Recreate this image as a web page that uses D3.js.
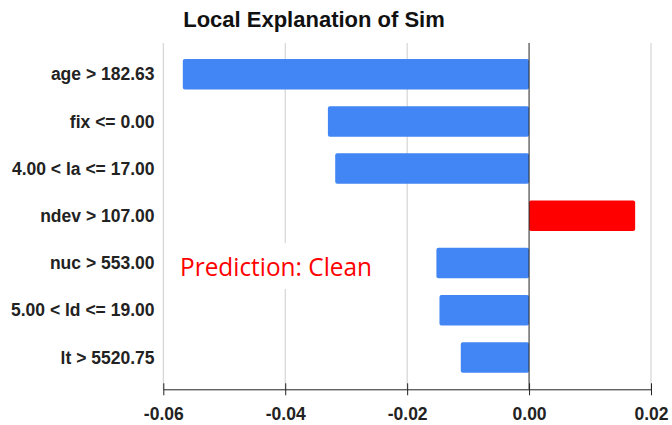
<!DOCTYPE html>
<html>
<head>
<meta charset="utf-8">
<script src="https://cdn.jsdelivr.net/npm/d3@7"></script>
<style>
  html, body { margin: 0; padding: 0; background: #fff; }
  svg { display: block; }
</style>
</head>
<body>
<script>
const categories = ["age > 182.63", "fix <= 0.00", "4.00 < la <= 17.00", "ndev > 107.00", "nuc > 553.00", "5.00 < ld <= 19.00", "lt > 5520.75"];
const values = [-0.0568, -0.0330, -0.0318, 0.0174, -0.0152, -0.0147, -0.0112];
const tickValues = [-0.06, -0.04, -0.02, 0.00, 0.02];
const titleText = "Local Explanation of Sim";
const predictionText = "Prediction: Clean";

const W = 672, H = 425;
const svg = d3.select("body").append("svg").attr("width", W).attr("height", H);

const x = d3.scaleLinear().domain([-0.06, 0.02]).range([163.3, 651]);
const y = d3.scaleBand().domain(categories).range([50.6, 381]).paddingInner(0.354).paddingOuter(0.177);
const gridTop = 43, axisY = 389.3;

// title
svg.append("text")
  .attr("x", 314).attr("y", 27)
  .attr("text-anchor", "middle")
  .style("font-family", "'Liberation Sans', Arial, sans-serif")
  .style("font-weight", "bold").style("font-size", "22px")
  .attr("fill", "#111")
  .text(titleText);

// gridlines
svg.append("g").selectAll("line").data(tickValues.filter(d => d !== 0)).join("line")
  .attr("x1", d => x(d)).attr("x2", d => x(d))
  .attr("y1", gridTop).attr("y2", axisY)
  .attr("stroke", "#cccccc").attr("stroke-width", 1);

// bars
svg.append("g").selectAll("rect").data(categories).join("rect")
  .attr("x", (d, i) => x(Math.min(0, values[i])))
  .attr("width", (d, i) => Math.abs(x(values[i]) - x(0)))
  .attr("y", d => y(d))
  .attr("height", y.bandwidth())
  .attr("rx", 2)
  .attr("fill", (d, i) => values[i] > 0 ? "#ff0000" : "#4285f4");

// zero line
svg.append("line")
  .attr("x1", x(0)).attr("x2", x(0))
  .attr("y1", gridTop).attr("y2", axisY)
  .attr("stroke", "#222").attr("stroke-width", 1);

// category labels
svg.append("g").selectAll("text").data(categories).join("text")
  .attr("x", 154.5)
  .attr("y", d => y(d) + y.bandwidth() / 2)
  .attr("dy", "0.35em")
  .attr("text-anchor", "end")
  .style("font-family", "'Liberation Sans', Arial, sans-serif")
  .style("font-weight", "bold").style("font-size", "17.5px")
  .attr("fill", "#222")
  .text(d => d);

// x axis
const fmt = d3.formatLocale({decimal: ".", thousands: ",", grouping: [3], currency: ["", ""], minus: "-"}).format(".2f");
const axis = d3.axisBottom(x).tickValues(tickValues).tickFormat(fmt).tickSizeInner(6).tickSizeOuter(0).tickPadding(19);
const gx = svg.append("g").attr("transform", `translate(0,${axisY})`).call(axis);
gx.select(".domain").attr("stroke", "#222");
gx.selectAll(".tick line").attr("y1", -6).attr("y2", 6).attr("stroke", "#222");
gx.selectAll(".tick text")
  .attr("y", 420 - axisY).attr("dy", 0)
  .style("font-family", "'Liberation Sans', Arial, sans-serif")
  .style("font-weight", "bold").style("font-size", "17.5px")
  .attr("fill", "#222");

// prediction annotation
svg.append("rect")
  .attr("x", 172).attr("y", 243).attr("width", 208).attr("height", 46)
  .attr("fill", "#fff");
svg.append("text")
  .attr("x", 180).attr("y", 275.7)
  .attr("textLength", 192).attr("lengthAdjust", "spacingAndGlyphs")
  .style("font-family", "'Open Sans', 'Noto Sans', sans-serif")
  .style("font-size", "25px")
  .attr("fill", "#ff0000")
  .text(predictionText);
</script>
</body>
</html>
